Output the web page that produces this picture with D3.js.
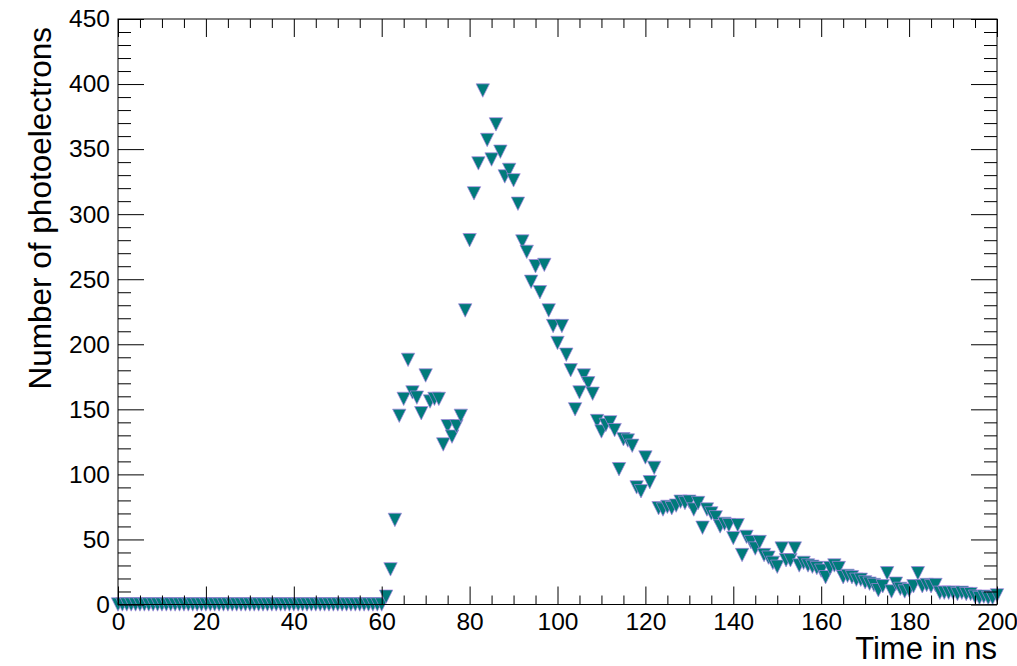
<!DOCTYPE html>
<html>
<head>
<meta charset="utf-8">
<script src="https://cdn.jsdelivr.net/npm/d3@7"></script>
<style>
  html, body { margin: 0; padding: 0; background: #fff; }
  text { font-family: "Liberation Sans", Arial, Helvetica, sans-serif; fill: #000; }
</style>
</head>
<body>
<svg id="chart" width="1017" height="666"></svg>
<script>
// photoelectron counts per 1 ns bin, t = 0 .. 200 ns
const counts = [
  0,0,0,0,0,0,0,0,0,0, 0,0,0,0,0,0,0,0,0,0,
  0,0,0,0,0,0,0,0,0,0, 0,0,0,0,0,0,0,0,0,0,
  0,0,0,0,0,0,0,0,0,0, 0,0,0,0,0,0,0,0,0,0,
  0,6,27,65,145,158,188,163,159,147,
  176,156,158,158,123,137,129,137,145,226,
  280,316,339,395,357,342,369,348,329,334,
  326,308,279,271,248,260,240,261,226,214,
  201,214,192,180,150,163,176,170,162,141,
  133,138,140,134,104,127,126,122,90,87,
  113,94,105,74,73,75,74,76,79,78,
  79,73,78,59,73,70,67,60,62,61,
  51,61,38,52,48,43,48,38,36,32,
  29,43,34,34,43,30,32,30,29,28,
  26,21,28,30,28,21,22,21,19,19,
  17,16,15,11,14,24,10,16,12,10,
  11,14,24,14,15,14,15,9,9,9,
  9,8,9,8,8,6,5,6,5,5,
  7
];
const timeNs = d3.range(counts.length);   // bin start times, 1 ns wide

const xDomain = [0, 200];
const yDomain = [0, 450];
const xMajor = [0, 20, 40, 60, 80, 100, 120, 140, 160, 180, 200];
const yMajor = [0, 50, 100, 150, 200, 250, 300, 350, 400, 450];
const xTitle = "Time in ns";
const yTitle = "Number of photoelectrons";

const svg = d3.select("#chart");
const L = 118, R = 997, T = 19, B = 604.5;

const x = d3.scaleLinear().domain(xDomain).range([L, R]);
const y = d3.scaleLinear().domain(yDomain).range([B, T]);

svg.append("rect").attr("width", 1017).attr("height", 666).attr("fill", "#fff");

// markers: full down-pointing triangles
const r = 6.7;
const tri = `M${-r},${-r}L${r},${-r}L0,${r}Z`;
svg.append("g").selectAll("path.pt")
  .data(timeNs)
  .join("path")
  .attr("class", "pt")
  .attr("d", tri)
  .attr("transform", i => `translate(${x(i)},${y(counts[i])})`)
  .attr("fill", "#007b7b")
  .attr("stroke", "#a884e0")
  .attr("stroke-width", 0.7);

// axes, ROOT style: ticks inside the frame on all four sides
const xMinor = d3.range(0, 201, 5).filter(v => !xMajor.includes(v));
const yMinor = d3.range(0, 451, 10).filter(v => !yMajor.includes(v));

function axisLines(g) { g.selectAll(".domain").remove(); g.selectAll("line").attr("stroke", "#000").attr("stroke-width", 1); }

svg.append("g").attr("transform", `translate(0,${B})`)
  .call(d3.axisBottom(x).tickValues(xMajor).tickSize(-18).tickFormat(d3.format("d")))
  .call(axisLines)
  .call(g => g.selectAll("text").attr("y", 8).attr("dy", "0.71em").style("font-size", "24.5px"));
svg.append("g").attr("transform", `translate(0,${B})`)
  .call(d3.axisBottom(x).tickValues(xMinor).tickSize(-9).tickFormat(""))
  .call(axisLines);
svg.append("g").attr("transform", `translate(0,${T})`)
  .call(d3.axisTop(x).tickValues(xMajor).tickSize(-18).tickFormat(""))
  .call(axisLines);
svg.append("g").attr("transform", `translate(0,${T})`)
  .call(d3.axisTop(x).tickValues(xMinor).tickSize(-9).tickFormat(""))
  .call(axisLines);

svg.append("g").attr("transform", `translate(${L},0)`)
  .call(d3.axisLeft(y).tickValues(yMajor).tickSize(-26).tickFormat(d3.format("d")))
  .call(axisLines)
  .call(g => g.selectAll("text").attr("x", -8).style("font-size", "24.5px"));
svg.append("g").attr("transform", `translate(${L},0)`)
  .call(d3.axisLeft(y).tickValues(yMinor).tickSize(-13).tickFormat(""))
  .call(axisLines);
svg.append("g").attr("transform", `translate(${R},0)`)
  .call(d3.axisRight(y).tickValues(yMajor).tickSize(-26).tickFormat(""))
  .call(axisLines);
svg.append("g").attr("transform", `translate(${R},0)`)
  .call(d3.axisRight(y).tickValues(yMinor).tickSize(-13).tickFormat(""))
  .call(axisLines);

// frame
svg.append("rect").attr("x", L).attr("y", T).attr("width", R - L).attr("height", B - T)
  .attr("fill", "none").attr("stroke", "#000").attr("stroke-width", 1);

// titles
svg.append("text").attr("x", R).attr("y", 659).attr("text-anchor", "end")
  .style("font-size", "31px").text(xTitle);
svg.append("text").attr("transform", "translate(51,27) rotate(-90)").attr("text-anchor", "end")
  .style("font-size", "31.5px").text(yTitle);
</script>
</body>
</html>
